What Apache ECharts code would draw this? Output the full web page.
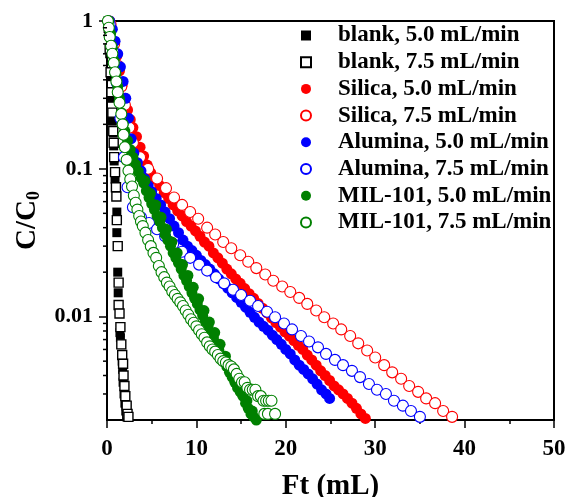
<!DOCTYPE html>
<html><head><meta charset="utf-8">
<script src="https://cdn.jsdelivr.net/npm/echarts@6/dist/echarts.min.js"></script>
<style>html,body{margin:0;padding:0;background:#fff}#c{width:566px;height:497px}</style>
</head><body><div id="c"></div>
<script>
const xTicks = [0, 10, 20, 30, 40, 50];
const yMajorTicks = [0.01, 0.1, 1];
const yMinorTicks = [0.003,0.004,0.005,0.006,0.007,0.008,0.009,
  0.02,0.03,0.04,0.05,0.06,0.07,0.08,0.09,
  0.2,0.3,0.4,0.5,0.6,0.7,0.8,0.9];
const seriesNames = ['blank, 5.0 mL/min','blank, 7.5 mL/min','Silica, 5.0 mL/min','Silica, 7.5 mL/min',
  'Alumina, 5.0 mL/min','Alumina, 7.5 mL/min','MIL-101, 5.0 mL/min','MIL-101, 7.5 mL/min'];

const blank50 = [[0.1,1.0],[0.2,0.8],[0.3,0.6],[0.4,0.42],[0.5,0.3],[0.6,0.21],[0.7,0.175],[0.75,0.143],[0.8,0.113],[0.9,0.085],[1.1,0.051],[1.1,0.037],[1.2,0.02],[1.25,0.0145],[1.45,0.0078],[1.5,0.0072],[1.7,0.005],[1.75,0.0044],[1.8,0.0036],[1.9,0.003],[2.0,0.0026],[2.1,0.0023],[2.2,0.0021]];
const blank75 = [[0.2,0.9],[0.3,0.65],[0.4,0.45],[0.5,0.33],[0.6,0.24],[0.7,0.18],[0.75,0.15],[0.8,0.12],[0.9,0.095],[1.0,0.075],[1.05,0.065],[1.1,0.045],[1.2,0.03],[1.3,0.017],[1.3,0.012],[1.4,0.0105],[1.5,0.0085],[1.6,0.0065],[1.7,0.0055],[1.8,0.0048],[1.85,0.004],[1.95,0.0034],[2.05,0.0029],[2.2,0.0025],[2.3,0.0022],[2.4,0.0021]];
const silica50 = [[0.3,1.0],[0.5,0.88],[0.8,0.72],[1.1,0.58],[1.4,0.46],[1.7,0.37],[2.0,0.3],[2.3,0.25],[2.6,0.215],[2.9,0.19],[3.3,0.165],[3.7,0.14],[4.1,0.122],[4.5,0.106],[4.9,0.094],[5.4,0.085],[5.9,0.077],[6.4,0.069],[6.9,0.063],[7.4,0.057],[7.9,0.052],[8.4,0.048],[8.9,0.044],[9.4,0.041],[9.9,0.038],[10.4,0.035],[10.9,0.032],[11.4,0.03],[11.9,0.027],[12.4,0.025],[12.9,0.023],[13.4,0.021],[13.9,0.0195],[14.4,0.018],[14.9,0.0168],[15.4,0.0155],[15.9,0.0143],[16.4,0.0133],[16.9,0.0123],[17.4,0.0114],[17.9,0.0106],[18.4,0.0098],[18.9,0.0091],[19.4,0.0085],[19.9,0.0079],[20.4,0.0074],[20.9,0.0069],[21.4,0.0064],[21.9,0.006],[22.4,0.0055],[22.9,0.0051],[23.4,0.0047],[23.9,0.0043],[24.4,0.004],[24.9,0.0037],[25.4,0.0034],[25.9,0.0032],[26.4,0.003],[26.9,0.0028],[27.4,0.0026],[27.9,0.0024],[28.4,0.0022],[28.9,0.00205]];
const silica75 = [[0.4,0.95],[0.8,0.7],[1.2,0.5],[1.6,0.36],[2.0,0.27],[2.5,0.19],[2.9,0.15],[3.7,0.12],[4.6,0.1],[5.6,0.086],[6.6,0.074],[7.5,0.064],[8.4,0.057],[9.3,0.051],[10.2,0.046],[11.2,0.04],[12.1,0.036],[13.0,0.032],[13.9,0.029],[14.9,0.026],[15.8,0.0235],[16.7,0.0213],[17.7,0.0193],[18.6,0.0175],[19.6,0.016],[20.5,0.0147],[21.5,0.0134],[22.4,0.0122],[23.4,0.011],[24.3,0.0099],[25.3,0.009],[26.2,0.0082],[27.2,0.0074],[28.1,0.0066],[29.1,0.0059],[30.0,0.0053],[31.0,0.0047],[31.9,0.0042],[32.9,0.0038],[33.8,0.0034],[34.8,0.0031],[35.7,0.0028],[36.7,0.0026],[37.6,0.0023],[38.6,0.0021]];
const alumina50 = [[0.3,1.0],[0.6,0.88],[0.9,0.73],[1.2,0.6],[1.5,0.49],[1.8,0.39],[2.1,0.3],[2.4,0.22],[2.7,0.16],[3.0,0.128],[3.4,0.11],[3.8,0.097],[4.2,0.086],[4.6,0.077],[5.0,0.07],[5.5,0.063],[6.0,0.057],[6.5,0.051],[7.0,0.046],[7.5,0.041],[8.0,0.037],[8.5,0.033],[9.0,0.03],[9.5,0.028],[10.0,0.026],[10.5,0.024],[11.0,0.0225],[11.5,0.021],[12.0,0.0195],[12.5,0.018],[13.0,0.0168],[13.5,0.0156],[14.0,0.0145],[14.5,0.0135],[15.0,0.0125],[15.5,0.0116],[16.0,0.0107],[16.5,0.0099],[17.0,0.0092],[17.5,0.0086],[18.0,0.0081],[18.5,0.0075],[19.0,0.007],[19.5,0.0065],[20.0,0.006],[20.5,0.0056],[21.0,0.0051],[21.5,0.0047],[22.0,0.0044],[22.5,0.0041],[23.0,0.0038],[23.5,0.0035],[24.0,0.0032],[24.5,0.003],[24.9,0.0028]];
const alumina75 = [[0.3,0.95],[0.7,0.62],[1.1,0.38],[1.5,0.22],[1.9,0.12],[2.3,0.075],[2.9,0.055],[3.8,0.047],[4.7,0.043],[5.6,0.039],[6.5,0.035],[7.4,0.031],[8.4,0.0275],[9.3,0.025],[10.3,0.0225],[11.2,0.0205],[12.2,0.0185],[13.1,0.0168],[14.1,0.0152],[15.0,0.014],[16.0,0.0128],[16.9,0.0118],[17.9,0.0108],[18.8,0.0099],[19.8,0.009],[20.7,0.0082],[21.7,0.0074],[22.6,0.0068],[23.6,0.0062],[24.5,0.0056],[25.5,0.0051],[26.4,0.0047],[27.4,0.0043],[28.3,0.0039],[29.3,0.0035],[30.2,0.0032],[31.2,0.003],[32.1,0.0027],[33.1,0.0025],[34.0,0.0023],[35.0,0.0021]];
const mil50 = [[0.2,1.0],[0.4,0.82],[0.6,0.66],[0.8,0.54],[1.0,0.44],[1.2,0.36],[1.4,0.3],[1.6,0.24],[1.8,0.2],[2.0,0.18],[2.3,0.155],[2.6,0.135],[2.9,0.12],[3.2,0.107],[3.5,0.096],[3.8,0.087],[4.1,0.08],[4.4,0.071],[4.7,0.064],[5.0,0.058],[5.3,0.053],[5.6,0.048],[5.9,0.044],[6.2,0.04],[6.5,0.036],[6.8,0.033],[7.1,0.03],[7.4,0.027],[7.7,0.025],[8.0,0.023],[8.3,0.021],[8.6,0.019],[8.9,0.0175],[9.2,0.016],[9.5,0.0145],[9.8,0.0133],[10.1,0.0122],[10.4,0.0111],[10.7,0.0102],[11.0,0.0093],[11.3,0.0086],[11.6,0.0078],[11.9,0.0072],[12.2,0.0066],[12.5,0.006],[12.8,0.0055],[13.1,0.005],[13.4,0.0046],[13.7,0.0042],[14.0,0.0039],[14.3,0.0036],[14.6,0.0033],[14.9,0.0031],[15.2,0.0029],[15.5,0.0026],[15.8,0.0024],[16.1,0.0022],[16.4,0.0021],[16.7,0.002],
  [4.25,0.083],[4.85,0.068],[5.45,0.057],[6.05,0.047],[6.65,0.039],[7.25,0.032],[7.85,0.027],[8.45,0.0225],[9.05,0.019],[9.65,0.0158],[10.25,0.0132],[10.85,0.011],[11.45,0.0092],[12.05,0.0078],[12.65,0.0065],[13.25,0.0054],[13.85,0.0045],[14.45,0.0038],[15.05,0.0032],[15.65,0.0027],[16.25,0.0023]];
const mil75 = [[0.1,1.0],[0.2,0.9],[0.3,0.78],[0.45,0.68],[0.6,0.6],[0.75,0.52],[0.9,0.45],[1.05,0.39],[1.2,0.33],[1.4,0.28],[1.6,0.235],[1.75,0.2],[1.85,0.17],[2.0,0.14],[2.2,0.115],[2.4,0.097],[2.6,0.085],[2.8,0.076],[3.0,0.066],[3.2,0.059],[3.4,0.053],[3.6,0.048],[3.8,0.044],[4.0,0.041],[4.3,0.037],[4.6,0.033],[4.9,0.03],[5.2,0.027],[5.5,0.025],[5.8,0.022],[6.1,0.02],[6.4,0.0185],[6.7,0.017],[7.0,0.016],[7.3,0.0148],[7.6,0.014],[7.9,0.0132],[8.2,0.0125],[8.5,0.0118],[8.8,0.011],[9.1,0.0103],[9.4,0.0096],[9.7,0.0091],[10.0,0.0086],[10.3,0.0081],[10.6,0.0076],[10.9,0.0072],[11.2,0.0067],[11.5,0.0063],[11.8,0.006],[12.1,0.0058],[12.4,0.0055],[12.7,0.0052],[13.0,0.005],[13.3,0.0049],[13.6,0.0047],[13.9,0.0046],[14.2,0.0044],[14.5,0.0041],[14.8,0.0038],[15.1,0.0036],[15.4,0.0036],[15.7,0.0033],[16.0,0.0032],[16.3,0.0032],[16.6,0.0032],[16.9,0.0029],[17.2,0.0029],[17.5,0.0027],[17.8,0.0027],[18.1,0.0027],[18.4,0.0027],[17.6,0.0022],[18.0,0.0022],[18.8,0.0022]];

const seriesData = [blank50, blank75, silica50, silica75, alumina50, alumina75, mil50, mil75];
const seriesColors = ['#000000','#000000','#ff0000','#ff0000','#0000ff','#0000ff','#008000','#008000'];
const seriesFilled = [true,false,true,false,true,false,true,false];
const seriesSymbol = ['rect','rect','circle','circle','circle','circle','circle','circle'];

const FONT = '"Liberation Serif", "Times New Roman", serif';
const chart = echarts.init(document.getElementById('c'), null, {renderer:'canvas'});

const scatterSeries = seriesNames.map((name, i) => ({
  name, type:'scatter', data: seriesData[i], symbol: seriesSymbol[i],
  symbolSize: seriesSymbol[i] === 'rect' ? 9 : 11,
  symbolKeepAspect: true,
  itemStyle: seriesFilled[i]
    ? {color: seriesColors[i], borderColor: seriesColors[i], borderWidth: 0, opacity: 1}
    : {color: '#ffffff', borderColor: seriesColors[i], borderWidth: seriesSymbol[i] === 'rect' ? 1.4 : 1.1, opacity: 1},
  emphasis: {disabled: true}, z: 2
}));

const legendData = seriesNames.map((name, i) => seriesSymbol[i] === 'rect'
  ? {name, icon: 'rect', symbolKeepAspect: true}
  : {name, icon: 'circle'});

chart.setOption({
  animation: false,
  backgroundColor: '#ffffff',
  grid: {left: 107, right: 12, top: 21, bottom: 77, show: true, borderColor: '#000', borderWidth: 2,
    backgroundColor: 'transparent', containLabel: false, outerBoundsMode: 'none'},
  legend: {
    data: legendData, orient: 'vertical', left: 300, top: 24, padding: 0,
    itemWidth: 10, itemHeight: 10, itemGap: 3.7, selectedMode: false, symbolKeepAspect: true,
    textStyle: {fontFamily: FONT, fontWeight: 'bold', fontSize: 23, color: '#000', lineHeight: 23, padding: [0, 0, 0, 22]}
  },
  xAxis: {
    type: 'value', min: 0, max: 50, interval: 10,
    name: 'Ft (mL)', nameLocation: 'middle', nameGap: 52,
    nameTextStyle: {fontFamily: FONT, fontWeight: 'bold', fontSize: 29, color: '#000'},
    axisLine: {show: true, lineStyle: {color: '#000', width: 2}},
    axisTick: {show: true, inside: false, length: 8, lineStyle: {color: '#000', width: 1.5}},
    minorTick: {show: true, splitNumber: 2, length: 4, lineStyle: {color: '#000', width: 1.5}},
    axisLabel: {fontFamily: FONT, fontWeight: 'bold', fontSize: 23, color: '#000', margin: 18},
    splitLine: {show: false}
  },
  yAxis: {
    type: 'log', logBase: 10, min: 0.002, max: 1,
    name: '{a|C/C}{b|0}', nameLocation: 'middle', nameGap: 60, nameRotate: 90,
    nameTextStyle: {fontFamily: FONT, fontWeight: 'bold', fontSize: 29, color: '#000',
      rich: {a: {fontFamily: FONT, fontWeight: 'bold', fontSize: 29, color: '#000'},
             b: {fontFamily: FONT, fontWeight: 'bold', fontSize: 18, color: '#000', verticalAlign: 'bottom', padding: [14, 0, 0, 0]}}},
    axisLine: {show: true, lineStyle: {color: '#000', width: 2}},
    axisTick: {show: true, inside: false, length: 8, lineStyle: {color: '#000', width: 1.5}},
    axisLabel: {fontFamily: FONT, fontWeight: 'bold', fontSize: 22, color: '#000', margin: 14,
      showMinLabel: false, formatter: v => String(+(+v).toPrecision(3))},
    splitLine: {show: false}
  },
  series: [
    ...scatterSeries,
    {
      type: 'custom', name: 'minorTicks', silent: true, clip: false, z: 5,
      data: yMinorTicks.map(v => [0, v]),
      encode: {x: 0, y: 1},
      renderItem: (params, api) => {
        const p = api.coord([api.value(0), api.value(1)]);
        return {type: 'line', shape: {x1: p[0] - 4, y1: p[1], x2: p[0], y2: p[1]},
                style: {stroke: '#000', lineWidth: 1.5}};
      }
    }
  ]
});
</script></body></html>
